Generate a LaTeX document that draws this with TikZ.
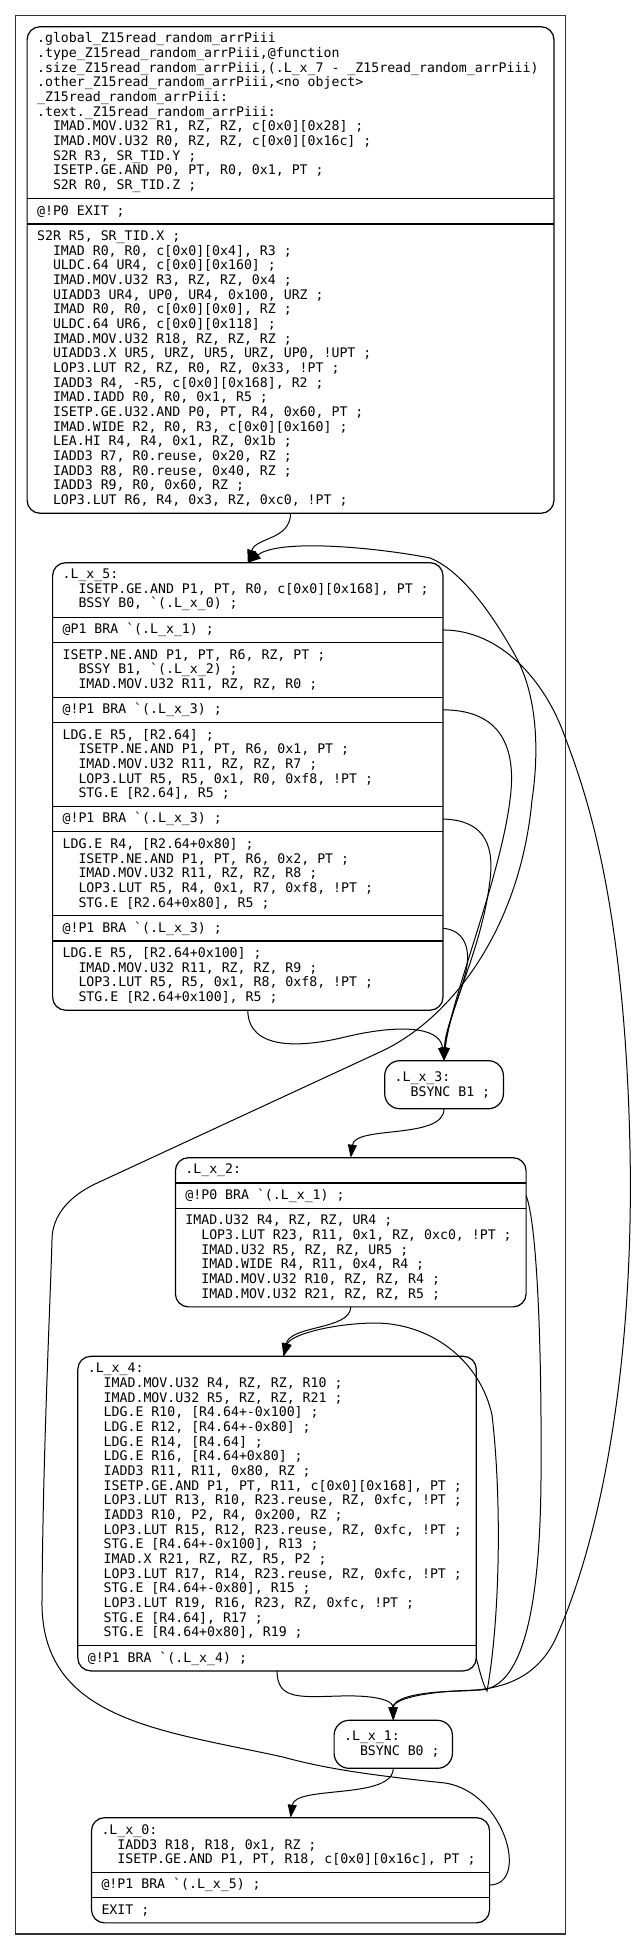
\documentclass[tikz,border=0pt]{standalone}
\usepackage{fontspec}
\setmonofont{DejaVu Sans Mono}
\usetikzlibrary{arrows.meta,positioning}
\newcommand{\indnt}{\phantom{xx}}
% mono font, one glyph (and one space) 7.96pt wide
\newcommand{\codefont}{\ttfamily\fontsize{13.22}{14.67}\selectfont}
\newcommand{\fixspace}{\spaceskip=7.96pt\relax\xspaceskip=7.96pt\relax}

\begin{document}
\begin{tikzpicture}[x=1pt, y=-1pt,
  code/.style={font=\codefont, align=flush left, execute at begin node=\fixspace,
    inner xsep=10pt, inner ysep=2pt, outer sep=0pt},
  sec/.style={code, minimum height=#1*14.67pt+10.6pt},
  blk/.style={draw, line width=1.2pt, rounded corners=13pt},
  link/.style={-{Triangle[length=13pt,width=9pt]}, line width=1pt}]
  \useasboundingbox (0,0) rectangle (635,1951);

  % Cluster frame
  \draw[line width=1.2pt, black!80] (15.4,15.7) rectangle (565.3,1934);

  % Entry block
  \node[sec=11, text width=506.9pt, anchor=north west] (fn1) at (27.1,26.7)
    {.global\_Z15read\_random\_arrPiii\\
     .type\_Z15read\_random\_arrPiii,@function\\
     .size\_Z15read\_random\_arrPiii,(.L\_x\_7 - \_Z15read\_random\_arrPiii)\\
     .other\_Z15read\_random\_arrPiii,<no object>\\
     \_Z15read\_random\_arrPiii:\\
     .text.\_Z15read\_random\_arrPiii:\\
     \indnt IMAD.MOV.U32 R1, RZ, RZ, c[0x0][0x28] ;\\
     \indnt IMAD.MOV.U32 R0, RZ, RZ, c[0x0][0x16c] ;\\
     \indnt S2R R3, SR\_TID.Y ;\\
     \indnt ISETP.GE.AND P0, PT, R0, 0x1, PT ;\\
     \indnt S2R R0, SR\_TID.Z ;};
  \node[sec=1, text width=506.9pt, below=0pt of fn1] (fn2) {@!P0 EXIT ;};
  \node[sec=19, text width=506.9pt, below=0pt of fn2] (fn3)
    {S2R R5, SR\_TID.X ;\\
     \indnt IMAD R0, R0, c[0x0][0x4], R3 ;\\
     \indnt ULDC.64 UR4, c[0x0][0x160] ;\\
     \indnt IMAD.MOV.U32 R3, RZ, RZ, 0x4 ;\\
     \indnt UIADD3 UR4, UP0, UR4, 0x100, URZ ;\\
     \indnt IMAD R0, R0, c[0x0][0x0], RZ ;\\
     \indnt ULDC.64 UR6, c[0x0][0x118] ;\\
     \indnt IMAD.MOV.U32 R18, RZ, RZ, RZ ;\\
     \indnt UIADD3.X UR5, URZ, UR5, URZ, UP0, !UPT ;\\
     \indnt LOP3.LUT R2, RZ, R0, RZ, 0x33, !PT ;\\
     \indnt IADD3 R4, -R5, c[0x0][0x168], R2 ;\\
     \indnt IMAD.IADD R0, R0, 0x1, R5 ;\\
     \indnt ISETP.GE.U32.AND P0, PT, R4, 0x60, PT ;\\
     \indnt IMAD.WIDE R2, R0, R3, c[0x0][0x160] ;\\
     \indnt LEA.HI R4, R4, 0x1, RZ, 0x1b ;\\
     \indnt IADD3 R7, R0.reuse, 0x20, RZ ;\\
     \indnt IADD3 R8, R0.reuse, 0x40, RZ ;\\
     \indnt IADD3 R9, R0, 0x60, RZ ;\\
     \indnt LOP3.LUT R6, R4, 0x3, RZ, 0xc0, !PT ;};
  \draw[blk] (fn1.north west) rectangle (fn3.south east);
  \foreach \p in {2,3}
    \draw[line width=1.2pt] (fn\p.north west) -- (fn\p.north east);

  % .L_x_5
  \node[sec=3, text width=370.4pt, anchor=north west] (lx5a) at (52.6,562.7)
    {.L\_x\_5:\\
     \indnt ISETP.GE.AND P1, PT, R0, c[0x0][0x168], PT ;\\
     \indnt BSSY B0, `(.L\_x\_0) ;};
  \node[sec=1, text width=370.4pt, below=0pt of lx5a] (lx5b) {@P1 BRA `(.L\_x\_1) ;};
  \node[sec=3, text width=370.4pt, below=0pt of lx5b] (lx5c)
    {ISETP.NE.AND P1, PT, R6, RZ, PT ;\\
     \indnt BSSY B1, `(.L\_x\_2) ;\\
     \indnt IMAD.MOV.U32 R11, RZ, RZ, R0 ;};
  \node[sec=1, text width=370.4pt, below=0pt of lx5c] (lx5d) {@!P1 BRA `(.L\_x\_3) ;};
  \node[sec=5, text width=370.4pt, below=0pt of lx5d] (lx5e)
    {LDG.E R5, [R2.64] ;\\
     \indnt ISETP.NE.AND P1, PT, R6, 0x1, PT ;\\
     \indnt IMAD.MOV.U32 R11, RZ, RZ, R7 ;\\
     \indnt LOP3.LUT R5, R5, 0x1, R0, 0xf8, !PT ;\\
     \indnt STG.E [R2.64], R5 ;};
  \node[sec=1, text width=370.4pt, below=0pt of lx5e] (lx5f) {@!P1 BRA `(.L\_x\_3) ;};
  \node[sec=5, text width=370.4pt, below=0pt of lx5f] (lx5g)
    {LDG.E R4, [R2.64+0x80] ;\\
     \indnt ISETP.NE.AND P1, PT, R6, 0x2, PT ;\\
     \indnt IMAD.MOV.U32 R11, RZ, RZ, R8 ;\\
     \indnt LOP3.LUT R5, R4, 0x1, R7, 0xf8, !PT ;\\
     \indnt STG.E [R2.64+0x80], R5 ;};
  \node[sec=1, text width=370.4pt, below=0pt of lx5g] (lx5h) {@!P1 BRA `(.L\_x\_3) ;};
  \node[sec=4, text width=370.4pt, below=0pt of lx5h] (lx5i)
    {LDG.E R5, [R2.64+0x100] ;\\
     \indnt IMAD.MOV.U32 R11, RZ, RZ, R9 ;\\
     \indnt LOP3.LUT R5, R5, 0x1, R8, 0xf8, !PT ;\\
     \indnt STG.E [R2.64+0x100], R5 ;};
  \draw[blk] (lx5a.north west) rectangle (lx5i.south east);
  \foreach \p in {b,...,i}
    \draw[line width=1.2pt] (lx5\p.north west) -- (lx5\p.north east);

  % .L_x_3
  \node[code, blk, rounded corners=15pt, text width=98.7pt, minimum height=48pt,
    anchor=north west] (lx3) at (384.7,1060.7)
    {.L\_x\_3:\\\indnt BSYNC B1 ;};

  % .L_x_2
  \node[sec=1, text width=330.7pt, anchor=north west] (lx2a) at (175.4,1157.7) {.L\_x\_2:};
  \node[sec=1, text width=330.7pt, below=0pt of lx2a] (lx2b) {@!P0 BRA `(.L\_x\_1) ;};
  \node[sec=6, text width=330.7pt, below=0pt of lx2b] (lx2c)
    {IMAD.U32 R4, RZ, RZ, UR4 ;\\
     \indnt LOP3.LUT R23, R11, 0x1, RZ, 0xc0, !PT ;\\
     \indnt IMAD.U32 R5, RZ, RZ, UR5 ;\\
     \indnt IMAD.WIDE R4, R11, 0x4, R4 ;\\
     \indnt IMAD.MOV.U32 R10, RZ, RZ, R4 ;\\
     \indnt IMAD.MOV.U32 R21, RZ, RZ, R5 ;};
  \draw[blk] (lx2a.north west) rectangle (lx2c.south east);
  \foreach \p in {b,c}
    \draw[line width=1.2pt] (lx2\p.north west) -- (lx2\p.north east);

  % .L_x_4
  \node[sec=19, text width=378.5pt, anchor=north west] (lx4a) at (77.8,1356.3)
    {.L\_x\_4:\\
     \indnt IMAD.MOV.U32 R4, RZ, RZ, R10 ;\\
     \indnt IMAD.MOV.U32 R5, RZ, RZ, R21 ;\\
     \indnt LDG.E R10, [R4.64+-0x100] ;\\
     \indnt LDG.E R12, [R4.64+-0x80] ;\\
     \indnt LDG.E R14, [R4.64] ;\\
     \indnt LDG.E R16, [R4.64+0x80] ;\\
     \indnt IADD3 R11, R11, 0x80, RZ ;\\
     \indnt ISETP.GE.AND P1, PT, R11, c[0x0][0x168], PT ;\\
     \indnt LOP3.LUT R13, R10, R23.reuse, RZ, 0xfc, !PT ;\\
     \indnt IADD3 R10, P2, R4, 0x200, RZ ;\\
     \indnt LOP3.LUT R15, R12, R23.reuse, RZ, 0xfc, !PT ;\\
     \indnt STG.E [R4.64+-0x100], R13 ;\\
     \indnt IMAD.X R21, RZ, RZ, R5, P2 ;\\
     \indnt LOP3.LUT R17, R14, R23.reuse, RZ, 0xfc, !PT ;\\
     \indnt STG.E [R4.64+-0x80], R15 ;\\
     \indnt LOP3.LUT R19, R16, R23, RZ, 0xfc, !PT ;\\
     \indnt STG.E [R4.64], R17 ;\\
     \indnt STG.E [R4.64+0x80], R19 ;};
  \node[sec=1, text width=378.5pt, below=0pt of lx4a] (lx4b) {@!P1 BRA `(.L\_x\_4) ;};
  \draw[blk] (lx4a.north west) rectangle (lx4b.south east);
  \draw[line width=1.2pt] (lx4b.north west) -- (lx4b.north east);

  % .L_x_1
  \node[code, blk, rounded corners=15pt, text width=98.3pt, minimum height=48pt,
    anchor=north west] (lx1) at (334.1,1720.3)
    {.L\_x\_1:\\\indnt BSYNC B0 ;};

  % .L_x_0
  \node[sec=3, text width=378.1pt, anchor=north west] (lx0a) at (91.5,1817.7)
    {.L\_x\_0:\\
     \indnt IADD3 R18, R18, 0x1, RZ ;\\
     \indnt ISETP.GE.AND P1, PT, R18, c[0x0][0x16c], PT ;};
  \node[sec=1, text width=378.1pt, below=0pt of lx0a] (lx0b) {@!P1 BRA `(.L\_x\_5) ;};
  \node[sec=1, text width=378.1pt, below=0pt of lx0b] (lx0c) {EXIT ;};
  \draw[blk] (lx0a.north west) rectangle (lx0c.south east);
  \foreach \p in {b,c}
    \draw[line width=1.2pt] (lx0\p.north west) -- (lx0\p.north east);

  % Edges
  \draw[link] (fn3.south) .. controls (290.5,540) and (256,537) .. (lx5a.north);
  \draw[link] (lx5b.east) .. controls (500,630) and (545,680) .. (565,737)
    .. controls (585,790) and (625,900) .. (630,1150)
    .. controls (634,1350) and (605,1530) .. (555,1640)
    .. controls (535,1680) and (500,1690) .. (460,1691)
    .. controls (410,1692) and (393,1700) .. (lx1.north);
  \draw[link] (lx5d.east) .. controls (495,710) and (518,740) .. (510,800)
    .. controls (500,880) and (450,1000) .. (lx3.north);
  \draw[link] (lx5f.east) .. controls (480,820) and (495,840) .. (490,880)
    .. controls (482,950) and (448,1010) .. (lx3.north);
  \draw[link] (lx5h.east) .. controls (465,930) and (472,950) .. (465,975)
    .. controls (455,1010) and (445,1030) .. (lx3.north);
  \draw[link] (lx5i.south) .. controls (248,1050) and (300,1048) .. (345,1037)
    .. controls (395,1025) and (440,1025) .. (lx3.north);
  \draw[link] (lx3.south) .. controls (444,1140) and (355,1125) .. (lx2a.north);
  \draw[link] (lx2b.east) .. controls (536,1220) and (542,1330) .. (541,1480)
    .. controls (540,1600) and (525,1688) .. (480,1690)
    .. controls (420,1691) and (393,1700) .. (lx1.north);
  \draw[link] (lx2c.south) .. controls (350.75,1330) and (290,1325) .. ([xshift=6.5pt]lx4a.north);
  \draw[link] (lx4b.east) .. controls (480,1672) and (483,1685) .. (487,1691)
    .. controls (500,1620) and (502,1500) .. (492,1415)
    .. controls (480,1360) and (430,1322) .. (372,1323)
    .. controls (330,1324) and (290,1335) .. ([xshift=6.5pt]lx4a.north);
  \draw[link] (lx4b.south) .. controls (277,1700) and (300,1697) .. (340,1696)
    .. controls (375,1695) and (393,1700) .. (lx1.north);
  \draw[link] (lx1.south) .. controls (393,1800) and (295,1785) .. (lx0a.north);
  \draw[link] (lx0b.east) .. controls (530,1885) and (505,1792) .. (445,1783)
    .. controls (380,1776) and (330,1770) .. (283,1757)
    .. controls (160,1730) and (40,1720) .. (42,1600)
    .. controls (43,1450) and (50,1310) .. (52,1240)
    .. controls (52,1215) and (70,1196) .. (95,1184)
    -- (380,1052)
    .. controls (450,1020) and (520,930) .. (532,800)
    .. controls (538,760) and (540,700) .. (515,655)
    .. controls (490,610) and (460,570) .. (430,558)
    .. controls (380,548) and (280,538) .. (lx5a.north);
\end{tikzpicture}
\end{document}
